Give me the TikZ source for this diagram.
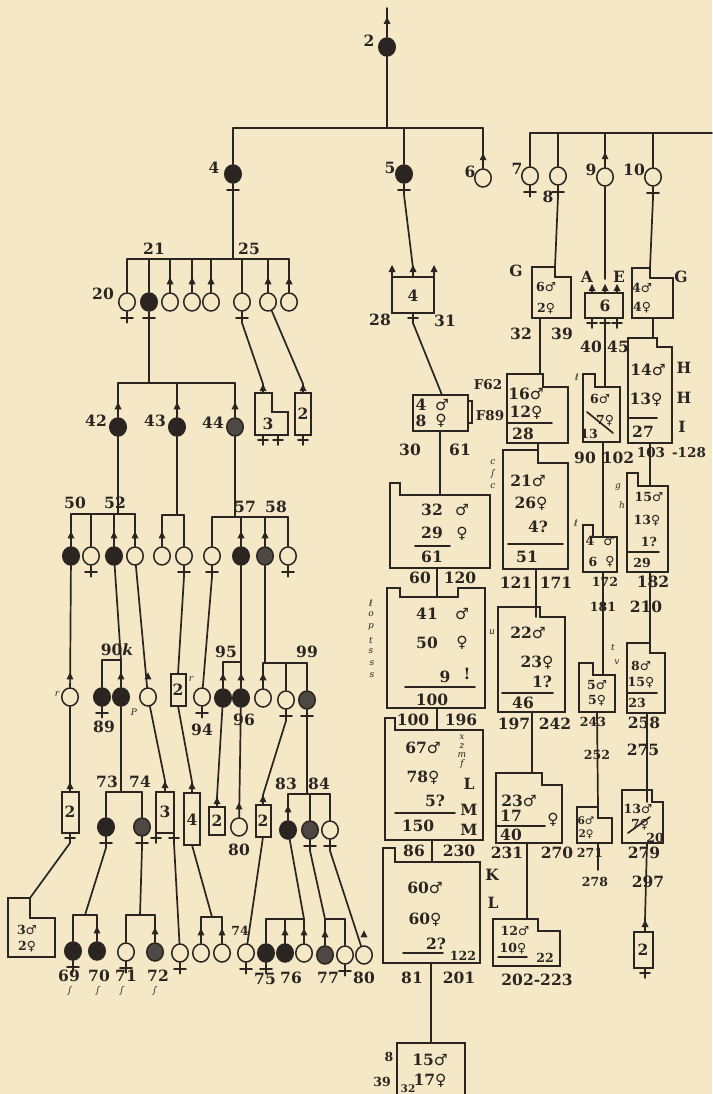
\documentclass[tikz,border=0pt]{standalone}
\usepackage{fontspec}
\setmainfont{DejaVu Serif}
\newfontfamily\symf{DejaVu Sans}
\usetikzlibrary{calc,shapes.geometric}
\definecolor{bg}{HTML}{F5E8C7}
\definecolor{ink}{HTML}{2A2521}
\definecolor{inkg}{HTML}{4E4844}
\newcommand\Ma{{\symf ♂}}
\newcommand\Fe{{\symf ♀}}
\newcounter{lbc}
\newcommand\lb[3][lbl]{\stepcounter{lbc}\node[#1] (L\arabic{lbc}) at (#2) {#3};}
\newcommand\Pn[4]{\node[#4] (#1) at (#2,#3) {};}
\newcommand\Mk[1]{\fill[ink] ($(#1.north)+(0,-15)$) -- ++(-3.5,7) -- ++(7,0) -- cycle;}
\newcommand\Fk[1]{\draw[ln] (#1.south) -- ++(0,11) coordinate (#1-b); \draw[ln] ($(#1.south)+(-6,6)$) -- ++(12,0);}
\newcommand\arrw[1]{\fill[ink] (#1) -- ++(-3.5,7) -- ++(7,0) -- cycle;}
\newcommand\crs[1]{\draw[ln] (#1) -- ++(0,10); \draw[ln] (#1) ++(-5,5) -- ++(10,0);}
\newcommand\NB[6]{\draw[bx] (#1,#2) -- (#3,#2) -- (#3,#4) -- (#5,#4) -- (#5,#6) -- (#1,#6) -- cycle;}
\tikzset{
 ln/.style={draw=ink, line width=1.7pt, line cap=round},
 bx/.style={draw=ink, line width=1.5pt, line join=miter},
 po/.style={ellipse, draw=ink, line width=1.5pt, fill=bg, minimum width=16.5pt, minimum height=18pt, inner sep=0pt},
 pf/.style={po, fill=ink},
 pg/.style={po, fill=inkg},
 lbl/.style={inner sep=0pt, text=ink, font=\fontsize{15.5}{16}\selectfont\bfseries},
 ml/.style={inner sep=0pt, text=ink, font=\fontsize{13.5}{14}\selectfont\bfseries},
 sl/.style={inner sep=0pt, text=ink, font=\fontsize{12.5}{13}\selectfont\bfseries},
 tl/.style={inner sep=0pt, text=ink, font=\fontsize{10.5}{11}\selectfont\bfseries},
 scr/.style={inner sep=0pt, text=ink, font=\fontsize{9}{9}\selectfont\itshape},
}
\begin{document}
\begin{tikzpicture}[x=1pt,y=-1pt]
\fill[bg] (0,0) rectangle (712,1094);
\useasboundingbox (0,0) rectangle (712,1094);
% ---------- top ----------
\Pn{p2}{387}{47}{pf}
\coordinate (top2) at (387,8);
\draw[ln] (p2) -- (top2);
\arrw{387,17}
\lb{369,41}{2}
\coordinate (bA1) at (233,128); \coordinate (bA2) at (483,128);
\draw[ln] (p2) -- (p2 |- bA1);
\draw[ln] (bA1) -- (bA2);
\Pn{p4}{233}{174}{pf}\Fk{p4}\lb{214,168}{4}
\Pn{p5}{404}{174}{pf}\Fk{p5}\lb{390,168}{5}
\Pn{p6}{483}{178}{po}\Mk{p6}\lb{470,172}{6}
\foreach \n in {p4,p5,p6} \draw[ln] (\n |- bA1) -- (\n);
\coordinate (bB1) at (530,133); \coordinate (bB2) at (712,133);
\draw[ln] (bB1) -- (bB2);
\Pn{p7}{530}{176}{po}\Fk{p7}\lb{517,169}{7}
\Pn{p8}{558}{176}{po}\Fk{p8}\lb{548,197}{8}
\Pn{p9}{605}{177}{po}\Mk{p9}\lb{591,170}{9}
\Pn{p10}{653}{177}{po}\Fk{p10}\lb{634,170}{10}
\foreach \n in {p7,p8,p9,p10} \draw[ln] (\n |- bB1) -- (\n);
% ---------- left tree ----------
\coordinate (bC1) at (127,259); \coordinate (bC2) at (289,259);
\draw[ln] (p4-b) -- (p4-b |- bC1);
\draw[ln] (bC1) -- (bC2);
\lb{154,249}{21}\lb{249,249}{25}
\Pn{c20}{127}{302}{po}\Fk{c20}\lb{103,294}{20}
\Pn{c21}{149}{302}{pf}\Fk{c21}
\Pn{c22}{170}{302}{po}\Mk{c22}
\Pn{c23}{192}{302}{po}\Mk{c23}
\Pn{c24}{211}{302}{po}\Mk{c24}
\Pn{c25}{242}{302}{po}\Fk{c25}
\Pn{c26}{268}{302}{po}\Mk{c26}
\Pn{c27}{289}{302}{po}\Mk{c27}
\foreach \n in {c20,c21,c22,c23,c24,c25,c26,c27} \draw[ln] (\n |- bC1) -- (\n);
\NB{255}{393}{272}{412}{288}{435}
\draw[ln] (c25-b) -- (263,384) -- (263,393); \arrw{263,384}
\crs{263,435}\crs{278,435}
\lb{268,424}{3}
\draw[bx] (295,393) rectangle (311,435);
\draw[ln] (c26) -- (303,384) -- (303,393); \arrw{303,384}
\crs{303,435}
\lb{303,414}{2}
\coordinate (bD1) at (118,383); \coordinate (bD2) at (235,383);
\draw[ln] (c21-b) -- (c21-b |- bD1); \draw[ln] (bD1) -- (bD2);
\Pn{c42}{118}{427}{pf}\Mk{c42}\lb{96,421}{42}
\Pn{c43}{177}{427}{pf}\Mk{c43}\lb{155,421}{43}
\Pn{c44}{235}{427}{pg}\Mk{c44}\lb{213,423}{44}
\foreach \n in {c42,c43,c44} \draw[ln] (\n |- bD1) -- (\n);
\coordinate (bE1) at (71,514); \coordinate (bE2) at (135,514);
\draw[ln] (c42) -- (c42 |- bE1); \draw[ln] (bE1) -- (bE2);
\lb{75,503}{50}\lb{115,503}{52}
\Pn{e1}{71}{556}{pf}\Mk{e1}
\Pn{e2}{91}{556}{po}\Fk{e2}
\Pn{e3}{114}{556}{pf}\Mk{e3}
\Pn{e4}{135}{556}{po}\Mk{e4}
\foreach \n in {e1,e2,e3,e4} \draw[ln] (\n |- bE1) -- (\n);
\coordinate (bF1) at (162,515); \coordinate (bF2) at (184,515);
\draw[ln] (c43) -- (c43 |- bF1); \draw[ln] (bF1) -- (bF2);
\Pn{f1}{162}{556}{po}\Mk{f1}
\Pn{f2}{184}{556}{po}\Fk{f2}
\foreach \n in {f1,f2} \draw[ln] (\n |- bF1) -- (\n);
\coordinate (bG1) at (212,517); \coordinate (bG2) at (288,517);
\draw[ln] (c44) -- (c44 |- bG1); \draw[ln] (bG1) -- (bG2);
\lb{245,507}{57}\lb{276,507}{58}
\Pn{g1}{212}{556}{po}\Fk{g1}
\Pn{g2}{241}{556}{pf}\Mk{g2}
\Pn{g3}{265}{556}{pg}\Mk{g3}
\Pn{g4}{288}{556}{po}\Fk{g4}
\foreach \n in {g1,g2,g3,g4} \draw[ln] (\n |- bG1) -- (\n);
% r line
\Pn{r1}{70}{697}{po}\Mk{r1}\lb[scr]{57,694}{r}
\draw[ln] (e1) -- (r1);
\draw[bx] (62,792) rectangle (79,833); \lb{70,812}{2}
\draw[ln] (r1) -- (70,782) -- (70,792); \arrw{70,782}
\crs{70,833}
\NB{8}{898}{30}{918}{55}{957}
\draw[ln] (70,843) -- (30,898);
\lb[sl]{27,930}{3\Ma}\lb[sl]{27,947}{2\Fe}
% bar H
\coordinate (bH1) at (102,660); \coordinate (bH2) at (121,660);
\draw[ln] (e3) -- (bH2); \draw[ln] (bH1) -- (bH2);
\lb{117,650}{90\textit{k}}
\Pn{h1}{102}{697}{pf}\Fk{h1}\lb{104,727}{89}
\Pn{h2}{121}{697}{pf}\Mk{h2}\lb[scr]{134,712}{P}
\foreach \n in {h1,h2} \draw[ln] (\n |- bH1) -- (\n);
\coordinate (bI1) at (106,792); \coordinate (bI2) at (142,792);
\draw[ln] (h2) -- (h2 |- bI1); \draw[ln] (bI1) -- (bI2);
\lb{107,782}{73}\lb{140,782}{74}
\Pn{i73}{106}{827}{pf}\Fk{i73}
\Pn{i74}{142}{827}{pg}\Fk{i74}
\foreach \n in {i73,i74} \draw[ln] (\n |- bI1) -- (\n);
% e4 line
\Pn{q1}{148}{697}{po}\Mk{q1}
\draw[ln] (e4) -- (q1);
\draw[bx] (156,792) rectangle (174,833); \lb{165,812}{3}
\draw[ln] (q1) -- (165,781) -- (165,792); \arrw{165,781}
\crs{156,833}\crs{174,833}
% f2 line
\draw[bx] (171,674) rectangle (186,706); \lb{178,690}{2}\lb[scr]{191,679}{r}
\draw[ln] (f2-b) -- (178,674);
\draw[bx] (184,793) rectangle (200,845); \lb{192,820}{4}
\draw[ln] (178,706) -- (192,782) -- (192,793); \arrw{192,782}
% g1 line
\Pn{s94}{202}{697}{po}\Fk{s94}\lb{202,730}{94}
\draw[ln] (g1-b) -- (s94);
% bar 95
\coordinate (b95a) at (223,662); \coordinate (b95b) at (241,662);
\draw[ln] (g2) -- (b95b); \draw[ln] (b95a) -- (b95b);
\lb{226,652}{95}
\Pn{t95}{223}{698}{pf}\Mk{t95}
\Pn{t96}{241}{698}{pf}\Mk{t96}\lb{244,720}{96}
\foreach \n in {t95,t96} \draw[ln] (\n |- b95a) -- (\n);
\draw[bx] (209,807) rectangle (225,835); \lb{217,821}{2}
\draw[ln] (t95) -- (217,797) -- (217,807); \arrw{217,797}
\Pn{u80}{239}{827}{po}\Mk{u80}\lb{239,850}{80}
\draw[ln] (t96) -- (u80);
% bar 99
\coordinate (b99a) at (263,663); \coordinate (b99b) at (307,663);
\draw[ln] (g3) -- (g3 |- b99a); \draw[ln] (b99a) -- (b99b);
\lb{307,652}{99}
\Pn{v1}{263}{698}{po}\Mk{v1}
\Pn{v2}{286}{700}{po}\Fk{v2}
\Pn{v3}{307}{700}{pg}\Fk{v3}
\foreach \n in {v1,v2,v3} \draw[ln] (\n |- b99a) -- (\n);
\draw[bx] (256,805) rectangle (271,837); \lb{263,821}{2}
\draw[ln] (v2-b) -- (263,795) -- (263,805); \arrw{263,795}
% bar 83 84
\coordinate (b83a) at (288,794); \coordinate (b83b) at (330,794);
\draw[ln] (v3-b) -- (v3-b |- b83a); \draw[ln] (b83a) -- (b83b);
\lb{286,784}{83}\lb{319,784}{84}
\Pn{x83}{288}{830}{pf}\Mk{x83}
\Pn{x84}{310}{830}{pg}\Fk{x84}
\Pn{x85}{330}{830}{po}\Fk{x85}
\foreach \n in {x83,x84,x85} \draw[ln] (\n |- b83a) -- (\n);
% bottom row
\coordinate (b69a) at (73,915); \coordinate (b69b) at (97,915);
\draw[ln] (i73-b) -- (85,915); \draw[ln] (b69a) -- (b69b);
\Pn{y69}{73}{951}{pf}\Fk{y69}\lb{69,976}{69}\lb[scr]{70,991}{\symf ʃ}
\Pn{y70}{97}{951}{pf}\Mk{y70}\lb{99,976}{70}\lb[scr]{98,991}{\symf ʃ}
\foreach \n in {y69,y70} \draw[ln] (\n |- b69a) -- (\n);
\coordinate (b71a) at (126,915); \coordinate (b71b) at (155,915);
\draw[ln] (i74-b) -- (140,915); \draw[ln] (b71a) -- (b71b);
\Pn{y71}{126}{952}{po}\Fk{y71}\lb{126,976}{71}\lb[scr]{122,991}{\symf ʃ}
\Pn{y72}{155}{952}{pg}\Mk{y72}\lb{158,976}{72}\lb[scr]{155,991}{\symf ʃ}
\foreach \n in {y71,y72} \draw[ln] (\n |- b71a) -- (\n);
\Pn{y73}{180}{953}{po}\Fk{y73}
\draw[ln] (174,843) -- (y73);
\coordinate (b74a) at (201,917); \coordinate (b74b) at (222,917);
\draw[ln] (192,845) -- (212,917); \draw[ln] (b74a) -- (b74b);
\Pn{y74}{201}{953}{po}\Mk{y74}
\Pn{y75}{222}{953}{po}\Mk{y75}
\foreach \n in {y74,y75} \draw[ln] (\n |- b74a) -- (\n);
\Pn{w74}{246}{953}{po}\Fk{w74}\lb[sl]{240,931}{74}
\draw[ln] (263,837) -- (w74);
\coordinate (b75a) at (266,919); \coordinate (b75b) at (304,919);
\draw[ln] (x83) -- (b75b); \draw[ln] (b75a) -- (b75b);
\Pn{z75}{266}{953}{pf}\Fk{z75}\lb{265,979}{75}
\Pn{z76}{285}{953}{pf}\Mk{z76}\lb{291,978}{76}
\Pn{z77o}{304}{953}{po}\Mk{z77o}
\foreach \n in {z75,z76,z77o} \draw[ln] (\n |- b75a) -- (\n);
\coordinate (b77a) at (325,919); \coordinate (b77b) at (345,919);
\draw[ln] (x84-b) -- (b77a); \draw[ln] (b77a) -- (b77b);
\Pn{z77}{325}{955}{pg}\Mk{z77}\lb{328,978}{77}
\Pn{z78}{345}{955}{po}\Fk{z78}
\foreach \n in {z77,z78} \draw[ln] (\n |- b77a) -- (\n);
\Pn{z80}{364}{955}{po}\Mk{z80}\lb{364,978}{80}
\draw[ln] (x85-b) -- (z80);
% ---------- middle column ----------
\draw[ln] (p5-b) -- (413,268);
\draw[bx] (392,277) rectangle (434,313);
\draw[ln] (392,277) -- (392,268); \draw[ln] (434,277) -- (434,268);
\draw[ln] (413,268) -- (413,277);
\arrw{392,265}\arrw{413,265}\arrw{434,265}
\crs{413,313}
\lb{413,296}{4}\lb{380,320}{28}\lb{445,321}{31}
\draw[ln] (413,323) -- (442,395);
\draw[bx] (413,395) rectangle (468,431);
\draw[bx] (468,401) rectangle (472,423);
\lb{421,405}{4}\lb{442,405}{\Ma}\lb{421,421}{8}\lb{441,421}{\Fe}
\lb[ml]{488,385}{F62}\lb[ml]{490,416}{F89}
\lb{410,450}{30}\lb{460,450}{61}
\draw[ln] (440,431) -- (440,495);
\NB{390}{483}{400}{495}{490}{568}
\lb{432,510}{32}\lb{462,510}{\Ma}\lb{432,533}{29}\lb{462,534}{\Fe}
\draw[ln] (415,546) -- (450,546);
\lb{432,557}{61}
\lb{420,578}{60}\lb{460,578}{120}
\draw[ln] (437,568) -- (437,597);
\draw[bx] (387,588) -- (400,588) -- (400,597) -- (458,597) -- (458,588) -- (485,588) -- (485,708) -- (387,708) -- cycle;
\lb{427,614}{41}\lb{462,614}{\Ma}\lb{427,643}{50}\lb{462,643}{\Fe}
\lb{445,677}{9}\lb{467,674}{!}
\draw[ln] (405,687) -- (475,687);
\lb{432,700}{100}
\lb[scr]{371,603}{\symf ℓ}\lb[scr]{371,614}{o}\lb[scr]{371,627}{p}\lb[scr]{371,640}{t}\lb[scr]{371,651}{s}\lb[scr]{372,663}{s}\lb[scr]{372,675}{s}
\lb[scr]{492,632}{u}
\draw[ln] (437,708) -- (437,730);
\NB{385}{718}{395}{730}{483}{840}
\lb{413,720}{100}\lb{461,720}{196}
\lb{423,748}{67\Ma}\lb{423,778}{78\Fe}\lb{435,801}{5?}
\draw[ln] (395,813) -- (455,813);
\lb{418,826}{150}
\lb{469,784}{L}\lb{469,810}{M}\lb{469,830}{M}
\lb[scr]{462,737}{x}\lb[scr]{462,746}{z}\lb[scr]{462,755}{m}\lb[scr]{462,764}{f}
\lb{414,851}{86}\lb{459,851}{230}
\draw[ln] (432,840) -- (432,862);
\NB{383}{848}{395}{862}{480}{963}
\lb{425,888}{60\Ma}\lb{425,920}{60\Fe}\lb{436,944}{2?}
\draw[ln] (403,953) -- (443,953);
\lb[sl]{463,956}{122}
\lb{492,875}{K}\lb{493,903}{L}
\lb{412,978}{81}\lb{459,978}{201}
\draw[ln] (431,963) -- (431,1043);
\draw[bx] (397,1043) rectangle (465,1100);
\lb{430,1060}{15\Ma}\lb{430,1081}{17\Fe}
\lb[sl]{389,1057}{8}\lb[sl]{382,1082}{39}\lb[tl]{408,1089}{32}
% ---------- column 2 ----------
\draw[ln] (p8-b) -- (555,267);
\NB{532}{267}{555}{277}{571}{318}
\lb{516,271}{G}
\lb[sl]{546,287}{6\Ma}\lb[sl]{546,309}{2\Fe}
\lb{521,334}{32}\lb{562,334}{39}
\draw[ln] (540,318) -- (540,374);
\NB{507}{374}{543}{387}{568}{443}
\lb{526,394}{16\Ma}\lb{526,413}{12\Fe}
\draw[ln] (507,423) -- (552,423);
\lb{523,434}{28}
\draw[ln] (538,443) -- (538,463);
\NB{503}{450}{538}{463}{568}{569}
\lb{528,481}{21\Ma}\lb{531,504}{26\Fe}\lb{538,527}{4?}
\draw[ln] (508,544) -- (563,544);
\lb{527,557}{51}
\lb[scr]{493,462}{c}\lb[scr]{493,474}{\symf ʃ}\lb[scr]{493,486}{c}
\lb{516,583}{121}\lb{556,583}{171}
\draw[ln] (536,569) -- (536,617);
\NB{498}{607}{540}{617}{565}{712}
\lb{528,633}{22\Ma}\lb{537,663}{23\Fe}\lb{542,682}{1?}
\draw[ln] (502,693) -- (553,693);
\lb{523,703}{46}
\lb{514,724}{197}\lb{555,724}{242}
\draw[ln] (532,712) -- (532,773);
\NB{496}{773}{542}{785}{562}{843}
\lb{519,801}{23\Ma}\lb{511,816}{17}\lb{553,820}{\Fe}
\draw[ln] (496,826) -- (545,826);
\lb{511,835}{40}
\lb{507,853}{231}\lb{557,853}{270}
\draw[ln] (527,843) -- (527,919);
\NB{493}{919}{538}{931}{560}{966}
\lb[sl]{515,931}{12\Ma}\lb[sl]{513,949}{10\Fe}
\draw[ln] (498,957) -- (527,957);
\lb[sl]{545,958}{22}
\lb{537,980}{202-223}
% ---------- column 3 ----------
\draw[ln] (p9) -- (605,279);
\lb{587,277}{A}\lb{619,277}{E}
\draw[bx] (585,293) rectangle (623,318);
\foreach \xx in {592,605,617} {\draw[ln] (\xx,286) -- (\xx,293); \arrw{\xx,284} \crs{\xx,318}}
\lb{605,306}{6}
\lb{591,347}{40}\lb{618,347}{45}
\draw[ln] (605,328) -- (605,387);
\NB{583}{374}{595}{387}{620}{442}
\lb[sl]{600,399}{6\Ma}\lb[sl]{605,421}{7\Fe}
\draw[ln] (587,412) -- (613,433);
\lb[sl]{589,434}{13}
\lb[scr]{577,377}{\symf ℓ}
\lb{585,458}{90}\lb{618,458}{102}
\draw[ln] (603,442) -- (603,537);
\lb[scr]{618,487}{g}\lb[scr]{622,505}{h}\lb[scr]{576,523}{\symf ℓ}
\NB{583}{525}{593}{537}{617}{572}
\lb[sl]{590,541}{4}\lb[sl]{609,541}{\Ma}\lb[sl]{593,562}{6}\lb[sl]{610,562}{\Fe}
\lb[sl]{605,582}{172}\lb[sl]{603,607}{181}
\draw[ln] (603,572) -- (603,675);
\NB{579}{663}{593}{675}{615}{712}
\lb[sl]{597,685}{5\Ma}\lb[sl]{597,701}{5\Fe}
\lb[scr]{613,647}{t}\lb[scr]{617,662}{v}
\lb[sl]{593,722}{243}\lb[sl]{597,755}{252}
\draw[ln] (597,712) -- (598,807);
\NB{577}{807}{598}{818}{612}{843}
\lb[tl]{586,821}{6\Ma}\lb[tl]{586,834}{2\Fe}
\lb[sl]{590,853}{271}\lb[sl]{595,882}{278}
\draw[ln] (598,843) -- (598,870);
% ---------- column 4 ----------
\draw[ln] (p10-b) -- (650,268);
\NB{632}{268}{650}{278}{673}{318}
\lb{681,277}{G}
\lb[sl]{642,288}{4\Ma}\lb[sl]{642,308}{4\Fe}
\draw[ln] (653,318) -- (653,338);
\NB{628}{338}{657}{347}{672}{443}
\lb{648,370}{14\Ma}\lb{646,400}{13\Fe}
\draw[ln] (628,418) -- (657,418);
\lb{643,432}{27}
\lb{684,368}{H}\lb{684,398}{H}\lb{682,427}{I}
\lb[ml]{651,453}{103}\lb[ml]{689,453}{-128}
\draw[ln] (650,443) -- (650,486);
\NB{627}{473}{638}{486}{668}{572}
\lb[sl]{649,497}{15\Ma}\lb[sl]{647,521}{13\Fe}\lb[sl]{649,542}{1?}
\draw[ln] (627,552) -- (659,552);
\lb[sl]{642,563}{29}
\lb{653,582}{182}\lb{646,607}{210}
\draw[ln] (650,572) -- (650,653);
\NB{627}{643}{650}{653}{665}{713}
\lb[sl]{641,666}{8\Ma}\lb[sl]{641,683}{15\Fe}
\draw[ln] (627,693) -- (657,693);
\lb[sl]{637,703}{23}
\lb{644,723}{258}\lb{643,750}{275}
\draw[ln] (647,713) -- (647,802);
\NB{622}{790}{652}{802}{663}{843}
\lb[sl]{638,809}{13\Ma}\lb[sl]{640,825}{7\Fe}
\draw[ln] (628,833) -- (650,817);
\lb[sl]{655,838}{20}
\lb{644,853}{279}\lb{648,882}{297}
\draw[ln] (647,843) -- (645,920);
\draw[bx] (634,932) rectangle (653,968);
\draw[ln] (645,920) -- (645,932); \arrw{645,920}
\crs{645,968}
\lb{643,950}{2}
\end{tikzpicture}
\end{document}
